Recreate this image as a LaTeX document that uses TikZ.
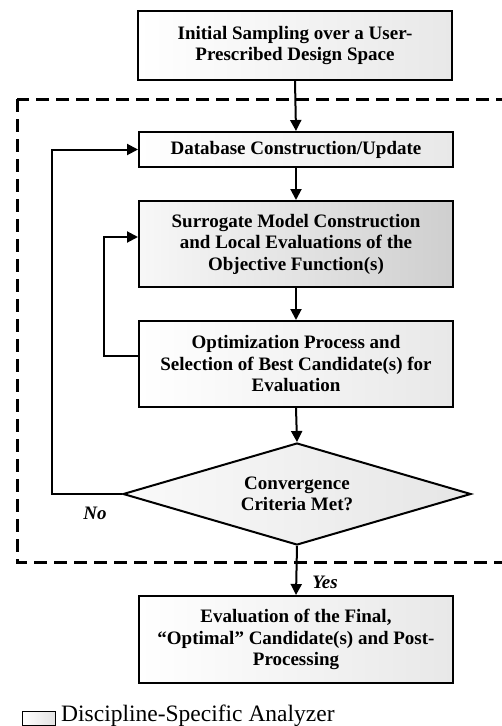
\documentclass[tikz,border=0pt]{standalone}
\usepackage{fontspec}
\setmainfont{Liberation Serif}
\usetikzlibrary{shapes.geometric,arrows.meta}
\begin{document}
\begin{tikzpicture}[x=1pt,y=-1pt,
  box/.style={draw=black, line width=2pt, minimum width=314pt, inner sep=1pt,
    align=center, font=\fontsize{19}{21.5}\selectfont\bfseries,
    left color=white, right color=gray!18},
  darkbox/.style={box, left color=gray!6, right color=gray!38},
  flow/.style={line width=2pt, -{Triangle[length=11pt,width=11pt]}},
  lab/.style={font=\fontsize{19}{21}\selectfont\bfseries\itshape}]
\useasboundingbox (0,0) rectangle (501,726);
\node[box, minimum height=69pt] (init) at (295,45.5) {Initial Sampling over a User-\\Prescribed Design Space};
\draw[line width=3pt, dash pattern=on 13pt off 7pt] (17,99) rectangle (510,562);
\node[box, minimum height=35pt] (db) at (296,149.5) {Database Construction/Update};
\node[darkbox, minimum height=86pt] (sur) at (296,244) {Surrogate Model Construction\\and Local Evaluations of the\\Objective Function(s)};
\node[box, minimum height=86pt] (opt) at (296,364) {Optimization Process and\\Selection of Best Candidate(s) for\\Evaluation};
\node[box, shape=diamond, shape aspect=3.4, minimum width=348pt, minimum height=102pt, inner sep=0pt,
  left color=gray!4, right color=gray!20] (conv) at (297,494) {Convergence\\Criteria Met?};
\node[box, minimum height=87pt] (fin) at (296,639.5) {Evaluation of the Final,\\``Optimal'' Candidate(s) and Post-\\Processing};
\draw[flow] (init.south) -- (db.north);
\draw[flow] (db.south) -- (sur.north);
\draw[flow] (sur.south) -- (opt.north);
\draw[flow] (opt.south) -- (conv.north);
\draw[flow] (conv.south) -- (fin.north);
\node[lab] (yes) at (325,582) {Yes};
\coordinate (c1) at (104,356);
\coordinate (c2) at (104,237);
\draw[flow] ([yshift=8pt]opt.west) -- (c1) -- (c2) -- (sur.west |- c2);
\coordinate (d1) at (52,494);
\coordinate (d2) at (52,149.5);
\draw[flow] (conv.west) -- (d1) -- (d2) -- (db.west);
\node[lab] (no) at (95,513) {No};
\node[draw=black, line width=1pt, left color=white, right color=gray!22,
  minimum width=33pt, minimum height=14pt, inner sep=0pt] (leg) at (38.5,718) {};
\node[anchor=west, font=\fontsize{23.5}{26}\selectfont, inner sep=0pt] (legt) at (61,716) {Discipline-Specific Analyzer};
\end{tikzpicture}
\end{document}
